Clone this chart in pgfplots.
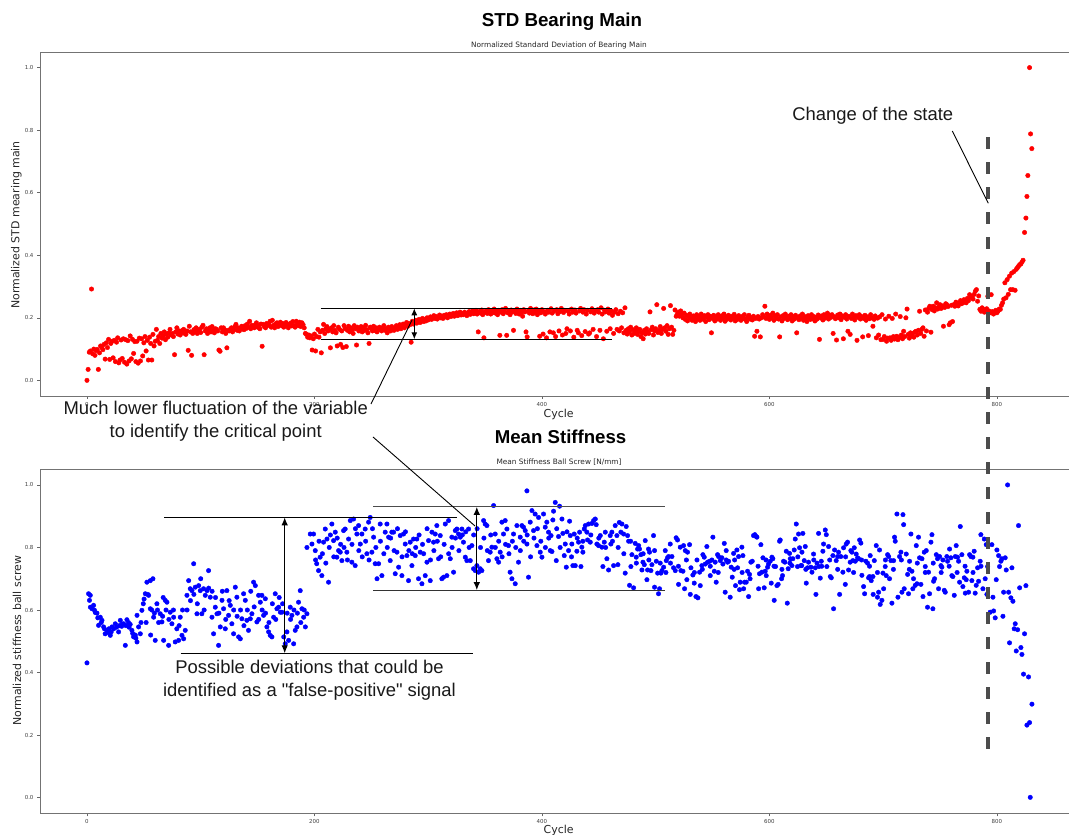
\documentclass[border=0pt]{standalone}
\usepackage{pgfplots}
\pgfplotsset{compat=1.18}
\usepackage{fontspec}
\setmainfont{Liberation Sans}
\newfontfamily\dejavu{DejaVu Sans}
\usetikzlibrary{arrows.meta}

\pgfplotsset{
  myax/.style={
    scale only axis, width=1034.3bp, height=344bp,
    xmin=-41.3, xmax=868, ymin=-0.05, ymax=1.05,
    xtick={0,200,400,600,800}, xticklabels={0,200,400,600,800},
    ytick={0,0.2,0.4,0.6,0.8,1.0}, yticklabels={0.0,0.2,0.4,0.6,0.8,1.0},
    tick pos=left, tick align=outside, major tick length=3bp,
    tick style={black!60, line width=0.6bp},
    axis line style={black!55, line width=0.9bp},
    ticklabel style={font=\dejavu\fontsize{5.5}{6}\selectfont, text=black!75},
  },
  reddots/.style={only marks, mark=*, mark size=2.25bp, color=red},
  bluedots/.style={only marks, mark=*, mark size=2.25bp, color=blue},
}

\begin{document}
\begin{tikzpicture}[x=1bp,y=1bp]
% ---------------- top axis ----------------
\begin{axis}[myax, at={(40bp,439bp)}, anchor=south west]
\addplot[reddots] coordinates {
(0,0.000)(1,0.035)(2,0.090)(3,0.094)(4,0.292)(5,0.085)(6,0.100)(7,0.080)(8,0.095)(9,0.099)(10,0.035)(11,0.088)(12,0.110)(13,0.105)(14,0.098)
(15,0.115)(16,0.068)(17,0.120)(18,0.105)(19,0.131)(20,0.067)(21,0.118)(22,0.125)(23,0.072)(24,0.128)(25,0.060)(26,0.122)(27,0.136)(28,0.056)(29,0.065)(30,0.129)
(31,0.070)(32,0.133)(33,0.058)(34,0.130)(35,0.052)(36,0.127)(37,0.062)(38,0.142)(39,0.069)(40,0.131)(41,0.086)(42,0.124)(43,0.060)(44,0.125)(45,0.055)
(46,0.135)(47,0.062)(48,0.133)(49,0.078)(50,0.120)(51,0.140)(52,0.094)(53,0.128)(54,0.065)(55,0.138)(56,0.118)(57,0.065)(58,0.147)(59,0.110)(60,0.125)
(61,0.163)(62,0.128)(63,0.140)(64,0.118)(65,0.150)(66,0.135)(67,0.142)(68,0.155)(69,0.130)(70,0.148)(71,0.138)(72,0.152)(73,0.163)(74,0.145)(75,0.150)
(76,0.140)(77,0.082)(78,0.155)(79,0.168)(80,0.148)(81,0.158)(82,0.145)(83,0.152)(84,0.160)(85,0.163)(86,0.150)(87,0.147)(88,0.158)(89,0.096)(90,0.173)
(91,0.155)(92,0.080)(93,0.150)(94,0.162)(95,0.155)(96,0.168)(97,0.150)(98,0.158)(99,0.163)(100,0.153)(101,0.170)(102,0.176)(103,0.082)(104,0.158)(105,0.165)
(106,0.150)(107,0.162)(108,0.168)(109,0.155)(110,0.172)(111,0.160)(112,0.152)(113,0.165)(114,0.163)(115,0.158)(116,0.097)(117,0.093)(118,0.168)(119,0.155)(120,0.168)
(121,0.162)(122,0.150)(123,0.104)(124,0.160)(125,0.158)(126,0.163)(127,0.168)(128,0.155)(129,0.162)(130,0.172)(131,0.179)(132,0.160)(133,0.168)(134,0.158)(135,0.165)
(136,0.173)(137,0.170)(138,0.162)(139,0.175)(140,0.166)(141,0.180)(142,0.170)(143,0.189)(144,0.165)(145,0.176)(146,0.172)(147,0.168)(148,0.178)(149,0.184)(150,0.170)
(151,0.175)(152,0.165)(153,0.180)(154,0.109)(155,0.179)(156,0.172)(157,0.168)(158,0.182)(159,0.175)(160,0.178)(161,0.189)(162,0.170)(163,0.192)(164,0.176)(165,0.168)
(166,0.180)(167,0.184)(168,0.172)(169,0.178)(170,0.186)(171,0.175)(172,0.182)(173,0.170)(174,0.179)(175,0.185)(176,0.176)(177,0.168)(178,0.179)(179,0.183)(180,0.174)
(181,0.188)(182,0.176)(183,0.170)(184,0.189)(185,0.180)(186,0.175)(187,0.186)(188,0.172)(189,0.184)(190,0.178)(191,0.168)(192,0.150)(193,0.147)(194,0.138)(195,0.145)
(196,0.136)(197,0.142)(198,0.097)(199,0.133)(200,0.148)(201,0.094)(202,0.140)(203,0.163)(204,0.138)(205,0.155)
(206,0.088)(207,0.160)(208,0.179)(209,0.150)(210,0.165)(211,0.172)(212,0.158)(213,0.163)(214,0.104)(215,0.168)(216,0.155)(217,0.175)(218,0.160)(219,0.152)(220,0.110)
(221,0.170)(222,0.163)(223,0.115)(224,0.158)(225,0.105)(226,0.175)(227,0.165)(228,0.108)(229,0.160)(230,0.173)(231,0.155)(232,0.168)(233,0.162)(234,0.150)(235,0.175)
(236,0.165)(237,0.113)(238,0.170)(239,0.158)(240,0.163)(241,0.172)(242,0.155)(243,0.168)(244,0.160)(245,0.176)(246,0.162)(247,0.152)(248,0.118)(249,0.170)(250,0.165)
(251,0.158)(252,0.173)(253,0.160)(254,0.168)(255,0.155)(256,0.165)(257,0.170)(258,0.162)(259,0.158)(260,0.168)(261,0.175)(262,0.160)(263,0.165)(264,0.152)(265,0.170)
(266,0.163)(267,0.158)(268,0.172)(269,0.165)(270,0.160)(271,0.168)(272,0.175)(273,0.163)(274,0.170)(275,0.178)(276,0.165)(277,0.172)(278,0.180)(279,0.168)(280,0.176)
(281,0.185)(282,0.173)(283,0.182)(284,0.178)(285,0.122)(286,0.189)(287,0.180)(288,0.186)(289,0.192)(290,0.183)(291,0.190)(292,0.195)(293,0.185)(294,0.192)(295,0.198)
(296,0.188)(297,0.195)(298,0.190)(299,0.200)(300,0.193)
(301,0.198)(302,0.203)(303,0.195)(304,0.200)(305,0.207)(306,0.198)(307,0.204)(308,0.196)(309,0.202)(310,0.209)(311,0.200)(312,0.205)(313,0.198)(314,0.208)(315,0.203)
(316,0.210)(317,0.200)(318,0.206)(319,0.212)(320,0.204)(321,0.208)(322,0.214)(323,0.205)(324,0.210)(325,0.216)(326,0.207)(327,0.212)(328,0.218)(329,0.209)(330,0.214)
(331,0.210)(332,0.218)(333,0.212)(334,0.207)(335,0.216)(336,0.220)(337,0.211)(338,0.215)(339,0.222)(340,0.213)
(341,0.218)(342,0.224)(343,0.212)(344,0.155)(345,0.220)(346,0.215)(347,0.225)(348,0.210)(349,0.136)(350,0.218)(351,0.222)(352,0.214)(353,0.226)(354,0.219)(355,0.212)
(356,0.223)(357,0.217)(358,0.228)(359,0.215)(360,0.221)(361,0.210)(362,0.224)(363,0.144)(364,0.218)(365,0.226)(366,0.213)(367,0.220)(368,0.230)(369,0.144)(370,0.216)
(371,0.222)(372,0.210)(373,0.225)(374,0.219)(375,0.160)(376,0.223)(377,0.214)(378,0.228)(379,0.220)(380,0.212)(381,0.224)(382,0.218)(383,0.205)(384,0.226)(385,0.219)
(386,0.155)(387,0.139)(388,0.222)(389,0.215)(390,0.230)(391,0.220)(392,0.213)(393,0.225)(394,0.218)(395,0.228)(396,0.210)(397,0.222)(398,0.141)(399,0.216)(400,0.226)
(401,0.148)(402,0.219)(403,0.212)(404,0.136)(405,0.224)(406,0.218)(407,0.155)(408,0.229)(409,0.215)(410,0.152)(411,0.222)(412,0.140)(413,0.226)(414,0.213)(415,0.158)
(416,0.220)(417,0.230)(418,0.145)(419,0.217)(420,0.224)(421,0.150)(422,0.165)(423,0.221)(424,0.212)(425,0.158)(426,0.228)(427,0.218)(428,0.138)(429,0.225)(430,0.215)
(431,0.160)(432,0.152)(433,0.222)(434,0.230)(435,0.143)(436,0.218)(437,0.226)(438,0.156)(439,0.212)(440,0.224)(441,0.148)(442,0.152)(443,0.219)(444,0.229)(445,0.163)
(446,0.215)(447,0.222)(448,0.140)(449,0.226)(450,0.218)(451,0.160)(452,0.232)(453,0.212)(454,0.133)(455,0.224)(456,0.219)(457,0.157)(458,0.228)(459,0.215)(460,0.165)
(461,0.222)(462,0.208)(463,0.150)(464,0.218)(465,0.226)(466,0.163)(467,0.213)(468,0.158)(469,0.221)(470,0.168)
(471,0.216)(472,0.152)(473,0.232)(474,0.160)(475,0.148)(476,0.165)(477,0.155)(478,0.170)(479,0.145)(480,0.162)(481,0.150)(482,0.158)(483,0.168)(484,0.147)(485,0.156)
(486,0.163)(487,0.140)(488,0.152)(489,0.133)(490,0.160)(491,0.148)(492,0.165)(493,0.155)(494,0.150)(495,0.219)(496,0.162)(497,0.170)(498,0.145)(499,0.158)(500,0.165)
(501,0.242)(502,0.153)(503,0.160)(504,0.172)(505,0.150)(506,0.163)(507,0.230)(508,0.168)(509,0.157)(510,0.175)(511,0.147)(512,0.165)(513,0.239)(514,0.170)(515,0.147)
(516,0.160)(517,0.225)(518,0.205)
(519,0.212)(520,0.218)(521,0.205)(522,0.222)(523,0.210)(524,0.200)(525,0.215)(526,0.195)(527,0.208)(528,0.190)(529,0.203)(530,0.212)(531,0.198)(532,0.192)(533,0.206)
(534,0.200)(535,0.188)(536,0.210)(537,0.196)(538,0.204)(539,0.192)(540,0.212)(541,0.200)(542,0.195)(543,0.207)(544,0.188)(545,0.202)(546,0.210)(547,0.194)(548,0.205)
(549,0.152)(550,0.198)(551,0.208)(552,0.190)(553,0.203)(554,0.196)(555,0.210)(556,0.200)(557,0.192)(558,0.206)(559,0.198)(560,0.212)(561,0.189)(562,0.203)(563,0.196)
(564,0.208)(565,0.200)(566,0.193)(567,0.205)(568,0.198)(569,0.211)(570,0.190)(571,0.202)(572,0.195)(573,0.207)(574,0.200)(575,0.192)(576,0.204)(577,0.197)(578,0.210)
(579,0.195)(580,0.188)(581,0.202)(582,0.208)(583,0.196)(584,0.200)(585,0.193)(586,0.205)(587,0.141)(588,0.198)(589,0.157)(590,0.204)(591,0.196)(592,0.139)(593,0.200)
(594,0.210)(595,0.203)(596,0.237)
(597,0.198)(598,0.212)(599,0.205)(600,0.195)(601,0.208)(602,0.200)(603,0.215)(604,0.192)(605,0.206)(606,0.199)(607,0.210)(608,0.196)(609,0.139)(610,0.203)(611,0.190)
(612,0.207)(613,0.198)(614,0.212)(615,0.200)(616,0.194)(617,0.205)(618,0.198)(619,0.210)(620,0.190)(621,0.203)(622,0.196)(623,0.208)(624,0.152)(625,0.200)(626,0.194)
(627,0.206)(628,0.199)(629,0.212)(630,0.192)(631,0.204)(632,0.198)(633,0.188)(634,0.207)(635,0.200)(636,0.195)(637,0.210)(638,0.197)(639,0.204)(640,0.190)(641,0.202)
(642,0.196)(643,0.209)(644,0.131)(645,0.200)(646,0.206)(647,0.193)(648,0.210)(649,0.199)(650,0.204)(651,0.215)(652,0.196)(653,0.208)(654,0.201)(655,0.210)(656,0.150)
(657,0.203)(658,0.197)(659,0.129)(660,0.209)(661,0.200)(662,0.212)(663,0.194)(664,0.206)(665,0.133)(666,0.202)(667,0.210)(668,0.196)(669,0.157)(670,0.205)(671,0.147)
(672,0.198)(673,0.212)(674,0.200)(675,0.193)(676,0.207)(677,0.128)(678,0.201)(679,0.210)(680,0.196)(681,0.204)(682,0.139)(683,0.198)(684,0.208)(685,0.192)(686,0.203)
(687,0.143)(688,0.197)(689,0.210)(690,0.200)(691,0.173)(692,0.195)(693,0.206)(694,0.136)(695,0.199)(696,0.145)(697,0.203)(698,0.130)(699,0.210)(700,0.131)(701,0.140)
(702,0.196)(703,0.125)(704,0.135)(705,0.205)(706,0.136)(707,0.128)(708,0.198)(709,0.140)(710,0.132)(711,0.212)(712,0.141)(713,0.130)(714,0.137)(715,0.204)(716,0.145)
(717,0.133)(718,0.157)(719,0.140)(720,0.200)
(721,0.228)(722,0.147)(723,0.135)(724,0.152)(725,0.142)(726,0.150)(727,0.138)(728,0.155)(729,0.157)(730,0.145)(731,0.160)(732,0.221)(733,0.150)(734,0.163)(735,0.168)
(736,0.141)(737,0.225)(738,0.158)(739,0.218)(740,0.230)(741,0.237)(742,0.154)(743,0.226)(744,0.237)(745,0.222)(746,0.232)(747,0.248)(748,0.228)(749,0.235)(750,0.242)
(751,0.230)(752,0.238)(753,0.173)(754,0.233)(755,0.245)(756,0.242)(757,0.236)(758,0.178)(759,0.184)(760,0.240)(761,0.188)(762,0.242)(763,0.237)(764,0.250)(765,0.243)
(766,0.238)(767,0.248)(768,0.255)(769,0.245)(770,0.248)(771,0.258)(772,0.252)(773,0.248)(774,0.262)(775,0.255)(776,0.274)(777,0.265)(778,0.269)(779,0.260)(780,0.275)
(781,0.285)(782,0.290)(783,0.253)(784,0.270)
(785,0.227)(786,0.221)(787,0.232)(788,0.227)(789,0.218)(790,0.225)(791,0.229)(792,0.269)(793,0.222)(794,0.216)(795,0.274)(796,0.220)(797,0.212)(798,0.218)(799,0.224)
(800,0.216)(801,0.221)(802,0.228)(803,0.227)(804,0.240)
(805,0.248)(806,0.260)(807,0.312)(808,0.264)(809,0.322)(810,0.275)(811,0.333)(812,0.290)(813,0.343)(814,0.290)(815,0.348)(816,0.288)(817,0.355)(818,0.360)(819,0.365)
(820,0.370)(821,0.372)(822,0.378)(823,0.384)
(824.3,0.473)(825.5,0.519)(826.4,0.588)(827.2,0.655)(828.7,1.000)(829.6,0.788)(830.7,0.741)
};
\end{axis}

% ---------------- bottom axis ----------------
\begin{axis}[myax, at={(40bp,21.7bp)}, anchor=south west]
\addplot[bluedots] coordinates {
(0,0.431)(1.4,0.652)(2.9,0.647)(2.2,0.631)(3,0.609)(5.8,0.615)(4.5,0.604)(8.8,0.59)(11.7,0.577)(10.2,0.551)(13.2,0.567)(14.6,0.546)(16,0.524)(17.6,0.535)(20.5,0.519)
(22,0.546)(24.9,0.556)(27.8,0.53)(29.3,0.567)(32.2,0.556)(33.7,0.487)(35.1,0.569)(38,0.554)(39.5,0.535)(41,0.514)(44,0.498)(45.4,0.546)(46.9,0.524)(44,0.583)(48.3,0.599)
(51.3,0.652)(52.7,0.689)(55.7,0.694)(58,0.7)(54.2,0.647)(55.7,0.604)(58.6,0.577)(60,0.503)(61.5,0.62)(64.4,0.588)(65.9,0.562)(67.4,0.503)(68.8,0.631)(70.3,0.625)
(71.8,0.487)(73.2,0.593)(74.7,0.556)(76.2,0.577)(77.6,0.498)(79,0.54)(80.6,0.503)(82,0.577)(83.5,0.519)(85,0.508)(86.4,0.535)(87.9,0.647)(89.4,0.694)(90.8,0.668)
(92.3,0.662)(93.8,0.748)(95.2,0.673)(96.7,0.588)(98.2,0.678)(99.6,0.662)(101,0.588)(102.5,0.668)(104,0.647)(105.5,0.662)(106.9,0.726)(108.4,0.641)(109.9,0.577)
(111.3,0.524)(112.8,0.609)(114.3,0.588)(115.7,0.487)(117.2,0.546)(118.7,0.631)(120.1,0.604)(121.6,0.54)(123,0.662)(124.5,0.583)(126,0.615)(127.4,0.556)(128.9,0.524)
(130.4,0.673)(131.8,0.641)(133.3,0.514)(134.8,0.508)(136.2,0.572)(137.7,0.652)(139.2,0.631)(140.6,0.567)(142,0.535)(143.6,0.572)(145,0.588)(146.5,0.689)(148,0.678)
(149.4,0.562)(150.9,0.647)(152.4,0.625)(153.8,0.647)(155.3,0.583)(156.8,0.636)(158.2,0.546)(159.7,0.53)(161.1,0.519)(162.6,0.514)(164.1,0.577)(165.5,0.652)(167,0.604)
(168.5,0.609)(170,0.593)(171.4,0.593)(173,0.514)(174.3,0.492)(175.8,0.53)(177.3,0.503)(178.7,0.609)(180.2,0.583)(181.7,0.492)(183.1,0.535)(184.6,0.546)(186,0.625)
(187.5,0.662)(189,0.604)(190.5,0.577)(192,0.546)(193.4,0.588)
(6.5,0.6)(7.3,0.592)(9.5,0.575)(12.5,0.56)(15.3,0.54)(18.5,0.528)(19.3,0.54)(21.3,0.53)(23.5,0.54)(26,0.545)(28.5,0.55)(30.5,0.548)(31,0.555)(34.3,0.55)(36.5,0.56)
(37,0.545)(40.2,0.525)(42.5,0.52)(43,0.51)(47.5,0.56)(49.5,0.62)(50.2,0.635)(53.5,0.65)(57,0.6)(59.3,0.59)(63,0.56)(66.5,0.58)(69.5,0.6)
(52,0.56)(56,0.52)(62,0.6)(67,0.64)(72,0.57)(76,0.6)(81,0.55)(84,0.6)(88,0.6)(91,0.63)(94,0.65)(97,0.62)(100,0.7)(103,0.6)(107,0.67)(110,0.66)(113,0.64)(116,0.59)
(119,0.66)(122,0.57)(125,0.63)(129,0.6)(132,0.58)(135,0.6)(138,0.55)(141,0.6)(144,0.66)(147,0.61)(151,0.57)(154,0.6)(157,0.59)(160,0.56)(163,0.62)(166,0.57)
(169,0.64)(172,0.62)(176,0.59)(179,0.57)(182,0.6)(185,0.59)(188,0.56)(191,0.6)
(193.4,0.8)(196.3,0.843)(197.8,0.811)(199.2,0.843)(200.7,0.79)(202,0.748)(205,0.769)(203.6,0.726)(206.5,0.71)(208,0.817)(209.5,0.859)(211,0.827)(212.4,0.689)
(215.3,0.875)(216.8,0.822)(218.3,0.849)(219.7,0.769)(221.2,0.79)(222.7,0.785)(224.1,0.758)(225.6,0.854)(227,0.859)(228.5,0.785)(230,0.827)(231.5,0.886)(232.9,0.753)
(234.4,0.891)(235.8,0.742)(237.3,0.843)(238.8,0.87)(240.3,0.811)(241.7,0.843)(244.6,0.859)(246.1,0.78)(247.6,0.881)(249,0.896)(250.5,0.785)(252,0.833)(253.4,0.748)
(255,0.7)(256.4,0.748)(257.8,0.875)(259.3,0.71)(262.2,0.849)(263.7,0.875)(265.2,0.833)(266.6,0.758)(268,0.849)(269.6,0.849)(271,0.716)(272.5,0.785)(274,0.737)
(275.4,0.838)(276.9,0.71)(278.3,0.843)(279.8,0.811)(281.3,0.774)(282.7,0.694)(284.2,0.817)(285.7,0.742)(287.1,0.827)(288.6,0.774)(290,0.827)(291.5,0.7)(293,0.785)
(294.5,0.684)(296,0.78)(297.4,0.71)(298.9,0.753)(300.3,0.822)(301.8,0.694)(303.3,0.849)(304.7,0.817)(306.2,0.843)(307.6,0.87)(309.1,0.764)(310.6,0.838)(312,0.7)
(313.5,0.705)(315,0.875)(316.4,0.71)(317.9,0.886)(319.4,0.764)(320.8,0.833)(322.3,0.721)(323.8,0.854)(325.2,0.859)(326.7,0.843)(328.2,0.833)(329.6,0.859)(331,0.817)
(332.6,0.769)(334,0.758)(335.5,0.859)(337,0.758)(338.4,0.806)(339.9,0.732)(341.3,0.726)(342.8,0.742)(344.3,0.721)(345.7,0.732)(347.2,0.726)(348.7,0.886)(350.1,0.875)
(351.6,0.87)(353,0.758)(354.5,0.785)(356,0.801)(357.5,0.934)(358.9,0.843)(360.4,0.764)(361.9,0.753)(363.3,0.785)(364.8,0.881)(366.2,0.843)(367.7,0.886)(369.2,0.859)
(370.6,0.806)(372,0.721)(373.6,0.7)(375,0.843)(376.5,0.684)(378,0.87)(379.4,0.753)(380.9,0.833)(382.4,0.87)(383.8,0.865)(385.3,0.854)(386.8,0.811)(386.8,0.981)
(388.2,0.705)(389.7,0.881)(391.2,0.918)(392.6,0.854)(394,0.907)(395.6,0.806)(397,0.896)(398.5,0.785)(400,0.769)(401.4,0.907)(402.9,0.865)(404.3,0.881)(405.8,0.849)
(407.3,0.79)
(201,0.76)(204,0.82)(207,0.78)(210,0.75)(213,0.8)(214,0.84)(217,0.77)(220,0.83)(223,0.81)(226,0.8)(229,0.76)(233,0.81)(236,0.86)(239,0.79)(242,0.77)(245,0.82)
(248,0.76)(251,0.86)(254,0.8)(258,0.82)(261,0.78)(264,0.8)(267,0.83)(270,0.79)(273,0.86)(277,0.77)(280,0.85)(283,0.79)(286,0.78)(289,0.8)(292,0.84)(295,0.81)
(299,0.86)(302,0.76)(305,0.79)(308,0.82)(311,0.77)(314,0.81)(318,0.78)(321,0.8)(324,0.83)(327,0.79)(330,0.84)(333,0.85)(336,0.8)(340,0.84)(343,0.86)(346,0.8)
(349,0.83)(352,0.79)(355,0.84)(359,0.8)(362,0.82)(365,0.77)(368,0.81)(371,0.78)(374,0.82)(377,0.8)(381,0.79)(384,0.82)(387,0.84)(390,0.77)(393,0.83)(396,0.86)
(399,0.82)(403,0.8)(406,0.83)(413,0.86)(416,0.8)(422,0.85)(426,0.77)(431,0.83)(436,0.82)(443,0.84)(450,0.83)(456,0.8)(462,0.82)(467,0.8)(472,0.78)(478,0.82)
(483,0.75)(489,0.78)(494,0.76)(499,0.79)(504,0.75)(509,0.72)
(411.7,0.944)(415.5,0.932)(410.2,0.916)(409.6,0.888)(408,0.838)(408.8,0.787)(412.6,0.758)(414.6,0.835)(417.6,0.891)(418.4,0.845)(420.5,0.811)(419.6,0.774)
(421.4,0.737)(423.4,0.79)(424.3,0.884)(424.9,0.838)(426.3,0.811)(427.2,0.742)(428.4,0.843)(429.3,0.742)(430.7,0.788)(432.2,0.817)(433.1,0.849)(434.3,0.739)
(435.1,0.801)(436,0.785)(437.2,0.859)(438.1,0.87)(439.5,0.849)(440.1,0.824)(441,0.875)(442.5,0.817)(444,0.877)(445.4,0.886)(446.9,0.891)(447.7,0.873)(448.3,0.811)
(449.8,0.806)(451.3,0.838)(452.7,0.801)(453.6,0.739)(454.8,0.817)(455.7,0.849)(457.1,0.764)(458.6,0.728)(460,0.838)(460.6,0.811)(461.5,0.849)(463,0.742)(464.4,0.87)
(465.9,0.838)(466.8,0.745)(468,0.88)(469.4,0.849)(470.3,0.875)(471.8,0.843)(473.2,0.718)(474.1,0.867)(475.3,0.838)(476.2,0.82)(477,0.679)(478.2,0.739)(479.1,0.777)
(480.6,0.671)(482,0.813)(482.9,0.769)(484.1,0.795)(485,0.806)(485.8,0.795)(487,0.777)(487.9,0.728)(488.8,0.753)(490,0.745)(490.8,0.822)(492.3,0.697)(492.9,0.728)
(493.7,0.795)(494.6,0.785)(495.8,0.726)(496.7,0.745)(498.1,0.838)(499,0.673)(500.5,0.756)(501.7,0.718)(502.5,0.652)(503.4,0.668)(504.6,0.718)(505.5,0.726)(507,0.737)
(508.4,0.79)(509.3,0.758)(510.4,0.767)(511.3,0.771)(512.8,0.811)(514.3,0.771)(515.7,0.735)(517.2,0.726)(518,0.831)(519.2,0.824)(520.1,0.682)(521.6,0.801)(522.2,0.726)
(524,0.724)(524.5,0.806)(525.4,0.668)(526,0.79)(527.4,0.697)(528,0.785)(529.8,0.809)(530.4,0.65)(531,0.735)(532.7,0.712)(533.9,0.686)(535.4,0.643)(536.3,0.76)
(537.1,0.639)(538.6,0.721)(539.2,0.678)(540.6,0.742)(541.5,0.777)(542.7,0.769)(543.6,0.747)(545,0.803)(545.6,0.753)(547.4,0.756)(548,0.71)(549.4,0.76)(550.3,0.833)
(551.5,0.724)(552.3,0.753)(553.2,0.689)(554.4,0.777)(555.3,0.771)(556.8,0.758)(558.2,0.767)(559.1,0.747)(560.3,0.813)(561.1,0.657)(562,0.79)(563.2,0.753)(564.1,0.756)
(565.5,0.641)(566.4,0.737)(567.3,0.705)(568.5,0.781)(569.4,0.76)(570.2,0.678)(571.4,0.792)(572,0.735)(572.9,0.771)(573.7,0.665)(574.3,0.689)(575.8,0.801)(576.7,0.774)
(577.3,0.668)(578.1,0.689)(579.6,0.689)(580.8,0.724)(581.7,0.643)(582.5,0.714)(583.7,0.753)(584.9,0.756)(586,0.838)(587.2,0.841)(588.4,0.835)(589,0.833)(590.5,0.668)
(591.3,0.716)(592.5,0.809)(593.4,0.721)(594.3,0.767)(595.4,0.671)(596.3,0.724)(597.2,0.71)(598.4,0.737)(599.2,0.747)(600.7,0.756)(601.6,0.686)(602.2,0.769)(603,0.764)
(604.2,0.631)(605.4,0.739)(606.6,0.678)(607.7,0.682)(608.9,0.82)(609.5,0.824)(610.7,0.7)(611.5,0.71)(612.4,0.756)(613.6,0.753)(614.8,0.788)(615.7,0.622)(616.5,0.732)
(617.7,0.781)(618.3,0.764)(619.8,0.742)(620.6,0.764)(621.8,0.792)(622.7,0.827)(623.6,0.875)(624.7,0.739)(625.6,0.843)(626.5,0.799)(627.7,0.742)
(513,0.75)(520,0.74)(527,0.76)(534,0.72)(541,0.73)(548,0.74)(555,0.72)(562,0.76)(569,0.73)(576,0.72)(583,0.7)(590,0.74)(597,0.76)(604,0.74)(611,0.73)(618,0.75)
(625,0.77)(632,0.73)(639,0.76)(646,0.74)(653,0.76)(660,0.73)(667,0.77)(674,0.72)(681,0.76)(688,0.74)(695,0.72)(702,0.76)(709,0.73)(716,0.76)(723,0.73)(730,0.75)
(737,0.72)(744,0.75)(751,0.72)(758,0.74)(765,0.72)(772,0.74)(779,0.72)(786,0.74)
(629.4,0.845)(628.6,0.785)(631.5,0.803)(630.6,0.758)(628.4,0.742)(632.4,0.686)(634.4,0.753)(633.5,0.735)(637.4,0.721)(636.5,0.737)(638.8,0.779)(640.3,0.735)(640.9,0.65)
(641.8,0.75)(643.2,0.845)(643.5,0.739)(644.7,0.702)(645.6,0.756)(647,0.788)(647.6,0.811)(649.1,0.856)(650,0.841)(650.5,0.739)(652,0.803)(653.5,0.707)(654.4,0.703)
(655.8,0.774)(656.4,0.604)(657.3,0.792)(658.7,0.758)(660,0.771)(660.8,0.785)(661.7,0.65)(662.8,0.771)(664.6,0.721)(665.2,0.799)(666.7,0.682)(667.5,0.811)(668.7,0.817)
(669.6,0.728)(671,0.753)(671.6,0.79)(672.5,0.785)(673.4,0.758)(674.6,0.799)(675.5,0.756)(676.3,0.779)(677.5,0.767)(678.4,0.764)(679.3,0.824)(680.4,0.814)(681.3,0.711)
(682.8,0.675)(683.7,0.652)(684.8,0.756)(686.3,0.75)(687.2,0.703)(688,0.707)(688.6,0.774)(689.5,0.694)(691,0.707)(691.2,0.65)(692.2,0.758)(693.9,0.806)(695,0.641)
(696,0.657)(696.8,0.792)(697.4,0.618)(698.9,0.631)(699.8,0.718)(700.4,0.668)(701.8,0.739)(702.7,0.71)(703.9,0.777)(704.8,0.771)(705.6,0.7)(706.8,0.758)(707.7,0.622)
(709.2,0.758)(710,0.833)(710.6,0.82)(712.1,0.907)(713,0.641)(714.4,0.771)(715.6,0.785)(716.5,0.657)(717.4,0.905)(718,0.873)(718.5,0.668)(720.3,0.779)(721.5,0.714)
(722.3,0.652)(723.2,0.756)(724.4,0.843)(725.3,0.724)(726.1,0.668)(726.7,0.7)(728.2,0.679)(729.1,0.806)(729.7,0.684)(731.1,0.833)(732,0.767)(733.2,0.682)(734.1,0.764)
(735,0.643)(736.1,0.785)(737,0.739)(737.9,0.79)(739,0.609)(739.9,0.721)(740.8,0.652)(742,0.817)(742.9,0.841)(743.7,0.604)(744.3,0.692)(745.2,0.7)(746.7,0.777)
(747.8,0.764)(748.7,0.668)(749.6,0.771)(750.8,0.742)(751.6,0.737)(752.5,0.76)(753.7,0.663)(754.6,0.657)(756,0.771)(756.6,0.756)(758.4,0.795)(759.5,0.767)(760.4,0.71)
(761.3,0.707)(762.5,0.647)(763.4,0.771)(764.2,0.806)(765.4,0.769)(766.3,0.756)(767.2,0.689)(767.8,0.867)(769.2,0.777)(770.1,0.675)(771.3,0.703)(772.2,0.654)(773,0.697)
(773.6,0.724)(775.1,0.657)(776,0.777)(777.1,0.771)(778,0.694)(778.9,0.769)(780,0.788)(780.9,0.654)(781.8,0.679)(783,0.735)(783.9,0.692)(785.3,0.756)(785.9,0.841)
(787.7,0.668)(788.9,0.827)(789.7,0.7)(790.6,0.809)(791.2,0.65)(791.8,0.739)(794.1,0.593)(795.6,0.809)(796.5,0.641)(797.1,0.597)(798.5,0.575)(799.4,0.697)(800,0.792)
(801.5,0.774)(802.3,0.739)(803.5,0.756)(804.4,0.764)(805.3,0.58)(805.9,0.657)(807.3,0.767)(808.2,0.728)(809.4,1.0)(810.3,0.657)(811.1,0.495)(812.3,0.639)(813.2,0.735)
(814.1,0.628)(815.2,0.54)(816.1,0.556)(817,0.469)(818.2,0.537)(819,0.87)(820,0.671)(821.1,0.48)(822,0.458)(823.4,0.395)(824.3,0.524)(825.5,0.678)(826.4,0.232)
(827.8,0.386)(828.7,0.24)(829.3,0.001)(830.8,0.299)
};
\end{axis}

% ---------------- titles and labels ----------------
\node[font=\bfseries\fontsize{18.8}{20}\selectfont] at (562,813.3) {STD Bearing Main};
\node[font=\dejavu\fontsize{7.4}{8}\selectfont, text=black!85] at (559,789.3) {Normalized Standard Deviation of Bearing Main};
\node[font=\bfseries\fontsize{18.7}{20}\selectfont] at (560.6,398) {Mean Stiffness};
\node[font=\dejavu\fontsize{7.4}{8}\selectfont, text=black!85] at (559,373) {Mean Stiffness Ball Screw [N/mm]};
\node[font=\dejavu\fontsize{11}{12}\selectfont, text=black!85, rotate=90] at (16.4,610) {Normalized STD mearing main};
\node[font=\dejavu\fontsize{11}{12}\selectfont, text=black!85, rotate=90] at (17,194.2) {Normalized stiffness ball screw};
\node[font=\dejavu\fontsize{11}{12}\selectfont, text=black!85] at (558.7,420.7) {Cycle};
\node[font=\dejavu\fontsize{11}{12}\selectfont, text=black!85] at (558.7,5) {Cycle};

% ---------------- annotations ----------------
% top band
\draw[black, line width=1.1bp] (320.7,526.7) -- (612.3,526.7);
\draw[black, line width=1.1bp] (320.7,495.7) -- (612.3,495.7);
\draw[black, line width=1.2bp, {Latex[length=7bp,width=6bp]}-{Latex[length=7bp,width=6bp]}] (414.3,526.7) -- (414.3,495.7);
\draw[black, line width=0.9bp] (371,431) -- (412,515);
% bottom bands
\draw[black, line width=1.1bp] (164,317.7) -- (456.5,317.7);
\draw[black, line width=1.1bp] (180.5,181.7) -- (472.6,181.7);
\draw[black, line width=1.2bp, {Latex[length=8bp,width=6.5bp]}-{Latex[length=8bp,width=6.5bp]}] (284.7,317.7) -- (284.7,181.7);
\draw[black!70, line width=1.3bp] (373,328.2) -- (665.3,328.2);
\draw[black!80, line width=1.1bp] (373,244.8) -- (665.3,244.8);
\draw[black, line width=1.2bp, {Latex[length=8bp,width=6.5bp]}-{Latex[length=8bp,width=6.5bp]}] (476.8,328.2) -- (476.8,244.8);
\draw[black, line width=0.9bp] (373,398) -- (475,309);
% change of state
\draw[black!70, line width=4.3bp, dash pattern=on 11.7bp off 13.3bp] (988.3,697.7) -- (988.3,85);
\draw[black, line width=0.9bp] (952.3,704) -- (988.3,631.7);
% texts
\node[anchor=base, font=\fontsize{18.5}{22}\selectfont, text=black!90] at (215.7,420) {Much lower fluctuation of the variable};
\node[anchor=base, font=\fontsize{18.5}{22}\selectfont, text=black!90] at (215.7,397) {to identify the critical point};
\node[anchor=base, font=\fontsize{18.5}{22}\selectfont, text=black!90] at (309.5,161) {Possible deviations that could be};
\node[anchor=base, font=\fontsize{18.5}{22}\selectfont, text=black!90] at (309.5,138.5) {identified as a \textquotedbl false-positive\textquotedbl\ signal};
\node[anchor=base, font=\fontsize{18.5}{22}\selectfont, text=black!90] at (872.8,714) {Change of the state};

\pgfresetboundingbox
\path[use as bounding box] (0,0) rectangle (1069,835);
\end{tikzpicture}
\end{document}
